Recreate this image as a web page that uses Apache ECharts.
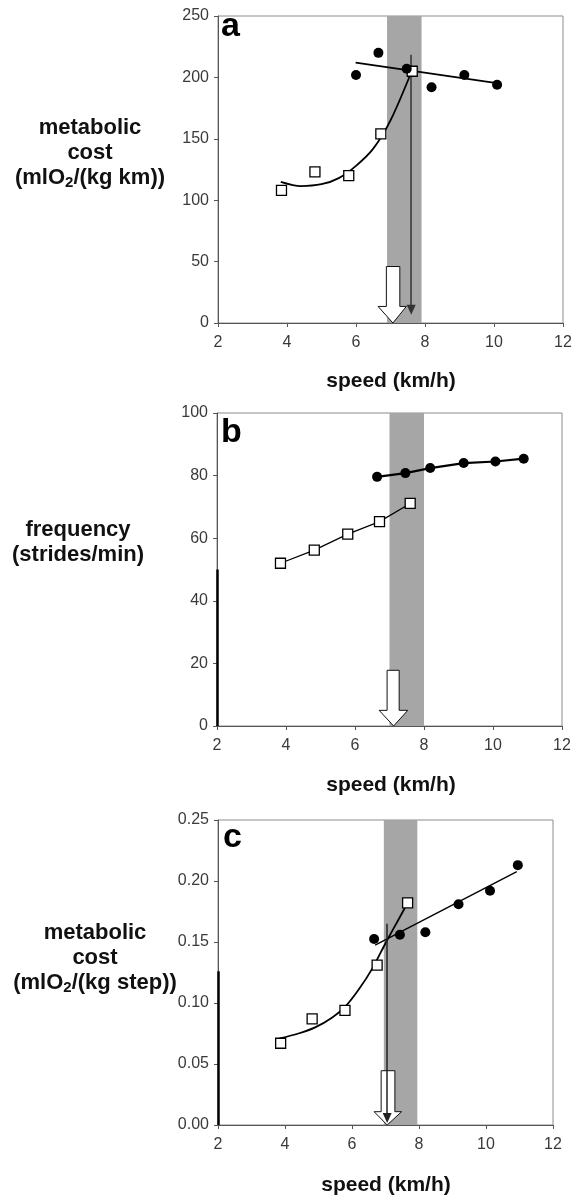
<!DOCTYPE html>
<html>
<head>
<meta charset="utf-8">
<script src="https://cdn.jsdelivr.net/npm/echarts@6/dist/echarts.min.js"></script>
<style>
html,body{margin:0;padding:0;background:#fff;}
#chart{width:575px;height:1197px;}
</style>
</head>
<body>
<div id="chart"></div>
<script>
// x ticks shared by the three panels
var speedTicks = [2, 4, 6, 8, 10, 12];

// panel a : metabolic cost per km
var aSquares = [[3.84,108],[4.81,123],[5.79,120],[6.72,154],[7.63,205]];
var aCircles = [[6.0,202],[6.65,220],[7.47,207],[8.19,192],[9.14,202],[10.09,194]];
var aSquareFit = [[3.82,115],[4.4,111.5],[5.0,113],[5.5,118],[6.0,128],[6.5,142],[7.0,165],[7.6,204]];
var aCircleFit = [[5.99,212],[10.18,195]];
var aBand = [6.9, 7.9];
var aArrow = [[7.6,218.5],[7.6,10.8]];
var aBlock = [[6.88,46],[7.27,46],[7.27,13.5],[7.46,13.5],[7.07,0],[6.64,13.5],[6.88,13.5]];

// panel b : stride frequency
var bSquares = [[3.84,52],[4.82,56.2],[5.79,61.3],[6.71,65.3],[7.6,71.1]];
var bCircles = [[6.64,79.6],[7.46,80.8],[8.18,82.4],[9.15,84.0],[10.07,84.5],[10.89,85.4]];
var bBand = [7.0, 8.0];
var bBlock = [[6.93,17.8],[7.28,17.8],[7.28,5],[7.53,5],[7.12,0],[6.7,5],[6.93,5]];
var bEdge = [[2,0],[2,50]];

// panel c : metabolic cost per step
var cSquares = [[3.87,0.067],[4.81,0.087],[5.79,0.094],[6.75,0.131],[7.66,0.182]];
var cCircles = [[6.66,0.1525],[7.43,0.156],[8.19,0.158],[9.18,0.181],[10.12,0.192],[10.95,0.213]];
var cSquareFit = [[3.84,0.071],[4.4,0.075],[4.9,0.08],[5.4,0.088],[5.8,0.097],[6.2,0.111],[6.6,0.128],[7.0,0.149],[7.3,0.164],[7.6,0.179]];
var cCircleFit = [[6.69,0.1475],[10.92,0.2077]];
var cBand = [6.95, 7.95];
var cArrow = [[7.05,0.165],[7.05,0.0057]];
var cBlock = [[6.87,0.0445],[7.28,0.0445],[7.28,0.0109],[7.48,0.0109],[7.05,0],[6.66,0.0109],[6.87,0.0109]];
var cEdge = [[2,0],[2,0.126]];

var labelFont = 'Liberation Sans, Arial, sans-serif';

function xAxisFor(i){
    return {
        gridIndex: i, type: 'value', min: speedTicks[0], max: speedTicks[speedTicks.length-1], interval: 2,
        splitLine: {show: false},
        axisLine: {lineStyle: {color: '#555', width: 1}},
        axisTick: {length: 4, lineStyle: {color: '#555'}},
        axisLabel: {color: '#3a3a3a', fontSize: 16, fontFamily: labelFont, margin: 12}
    };
}
function yAxisFor(i, max, interval, fmt){
    return {
        gridIndex: i, type: 'value', min: 0, max: max, interval: interval,
        splitLine: {show: false},
        axisLine: {show: true, lineStyle: {color: '#555', width: 1}},
        axisTick: {show: true, length: 4, lineStyle: {color: '#555'}},
        axisLabel: {color: '#3a3a3a', fontSize: 16, fontFamily: labelFont, margin: 9, formatter: fmt}
    };
}

function bandSeries(i, band){
    return {
        type: 'scatter', xAxisIndex: i, yAxisIndex: i, data: [], z: 1, silent: true,
        markArea: {
            silent: true,
            itemStyle: {color: '#a6a6a6'},
            label: {show: false},
            data: [[{xAxis: band[0]}, {xAxis: band[1]}]]
        }
    };
}
function blockArrowSeries(i, pts){
    return {
        type: 'custom', xAxisIndex: i, yAxisIndex: i, z: 3, silent: true,
        data: [pts[0]],
        renderItem: function(params, api){
            var p = pts.map(function(d){ return api.coord(d); });
            return {type: 'polygon', shape: {points: p},
                style: {fill: '#fff', stroke: '#111', lineWidth: 1}};
        }
    };
}
function fitSeries(i, data, w){
    return {
        type: 'line', xAxisIndex: i, yAxisIndex: i, data: data, z: 4, silent: true,
        smooth: 0.3, showSymbol: false, symbol: 'none',
        lineStyle: {color: '#000', width: w}
    };
}
function markerSeries(i, data, kind, joinWidth){
    var sq = kind === 'square';
    return {
        type: 'line', xAxisIndex: i, yAxisIndex: i, data: data, z: 5, silent: true,
        symbol: sq ? 'rect' : 'circle', symbolSize: 10, showSymbol: true,
        itemStyle: sq ? {color: '#fff', borderColor: '#000', borderWidth: 1.3} : {color: '#000'},
        lineStyle: {color: '#000', width: joinWidth || 0, opacity: joinWidth ? 1 : 0}
    };
}
function thinArrowSeries(i, seg, head, width, color){
    return {
        type: 'scatter', xAxisIndex: i, yAxisIndex: i, data: [], z: 6, silent: true,
        markLine: {
            silent: true, animation: false,
            symbol: head ? ['none', 'triangle'] : ['none', 'none'],
            symbolSize: [9, 10],
            label: {show: false},
            lineStyle: {color: color, width: width, type: 'solid'},
            data: [[{coord: seg[0]}, {coord: seg[1]}]]
        }
    };
}

function yLabel(x, y, text){
    return {
        type: 'text', x: x, y: y, silent: true,
        style: {
            text: text, fill: '#111', align: 'center', verticalAlign: 'middle',
            font: 'bold 22px ' + labelFont, lineHeight: 25,
            rich: {
                t: {fontSize: 22, fontWeight: 'bold', fontFamily: labelFont, lineHeight: 25, fill: '#111'},
                s: {fontSize: 15, fontWeight: 'bold', fontFamily: labelFont, lineHeight: 13, verticalAlign: 'bottom', fill: '#111'}
            }
        }
    };
}
function plainText(x, y, text, size){
    return {
        type: 'text', x: x, y: y, silent: true,
        style: {text: text, fill: '#111', align: 'center', verticalAlign: 'middle',
            font: 'bold ' + size + 'px ' + labelFont}
    };
}
function panelLetter(x, y, text){
    return {
        type: 'text', x: x, y: y, silent: true,
        style: {text: text, fill: '#000', align: 'left', verticalAlign: 'middle',
            font: 'bold 34px ' + labelFont}
    };
}

function speedChart(){
    var chart = echarts.init(document.getElementById('chart'), null, {renderer: 'canvas'});
    var option = {
        animation: false,
        backgroundColor: '#fff',
        grid: [
            {left: 218, top: 16, width: 345, height: 307, show: true, borderColor: '#8c8c8c', borderWidth: 1, backgroundColor: 'transparent'},
            {left: 217, top: 413, width: 345, height: 313, show: true, borderColor: '#8c8c8c', borderWidth: 1, backgroundColor: 'transparent'},
            {left: 218, top: 820, width: 335, height: 305, show: true, borderColor: '#8c8c8c', borderWidth: 1, backgroundColor: 'transparent'}
        ],
        xAxis: [xAxisFor(0), xAxisFor(1), xAxisFor(2)],
        yAxis: [
            yAxisFor(0, 250, 50),
            yAxisFor(1, 100, 20),
            yAxisFor(2, 0.25, 0.05, function(v){ return v.toFixed(2); })
        ],
        series: [
            bandSeries(0, aBand),
            blockArrowSeries(0, aBlock),
            fitSeries(0, aSquareFit, 1.8),
            fitSeries(0, aCircleFit, 1.8),
            markerSeries(0, aSquares, 'square'),
            markerSeries(0, aCircles, 'circle'),
            thinArrowSeries(0, aArrow, true, 1.5, '#333'),

            bandSeries(1, bBand),
            blockArrowSeries(1, bBlock),
            markerSeries(1, bSquares, 'square', 1.2),
            markerSeries(1, bCircles, 'circle', 2.2),
            thinArrowSeries(1, bEdge, false, 2.5, '#000'),

            bandSeries(2, cBand),
            blockArrowSeries(2, cBlock),
            fitSeries(2, cSquareFit, 1.8),
            fitSeries(2, cCircleFit, 1.4),
            markerSeries(2, cSquares, 'square'),
            markerSeries(2, cCircles, 'circle'),
            thinArrowSeries(2, cArrow, true, 1.5, '#222'),
            thinArrowSeries(2, cEdge, false, 2.5, '#000')
        ],
        graphic: [
            yLabel(90, 153, '{t|metabolic}\n{t|cost}\n{t|(mlO}{s|2}{t|/(kg km))}'),
            yLabel(78, 542, '{t|frequency}\n{t|(strides/min)}'),
            yLabel(95, 958, '{t|metabolic}\n{t|cost}\n{t|(mlO}{s|2}{t|/(kg step))}'),
            plainText(391, 381, 'speed (km/h)', 21),
            plainText(391, 785, 'speed (km/h)', 21),
            plainText(386, 1185, 'speed (km/h)', 21),
            panelLetter(221, 27, 'a'),
            panelLetter(221, 433, 'b'),
            panelLetter(223, 838, 'c')
        ]
    };
    chart.setOption(option);
}

speedChart();
</script>
</body>
</html>
